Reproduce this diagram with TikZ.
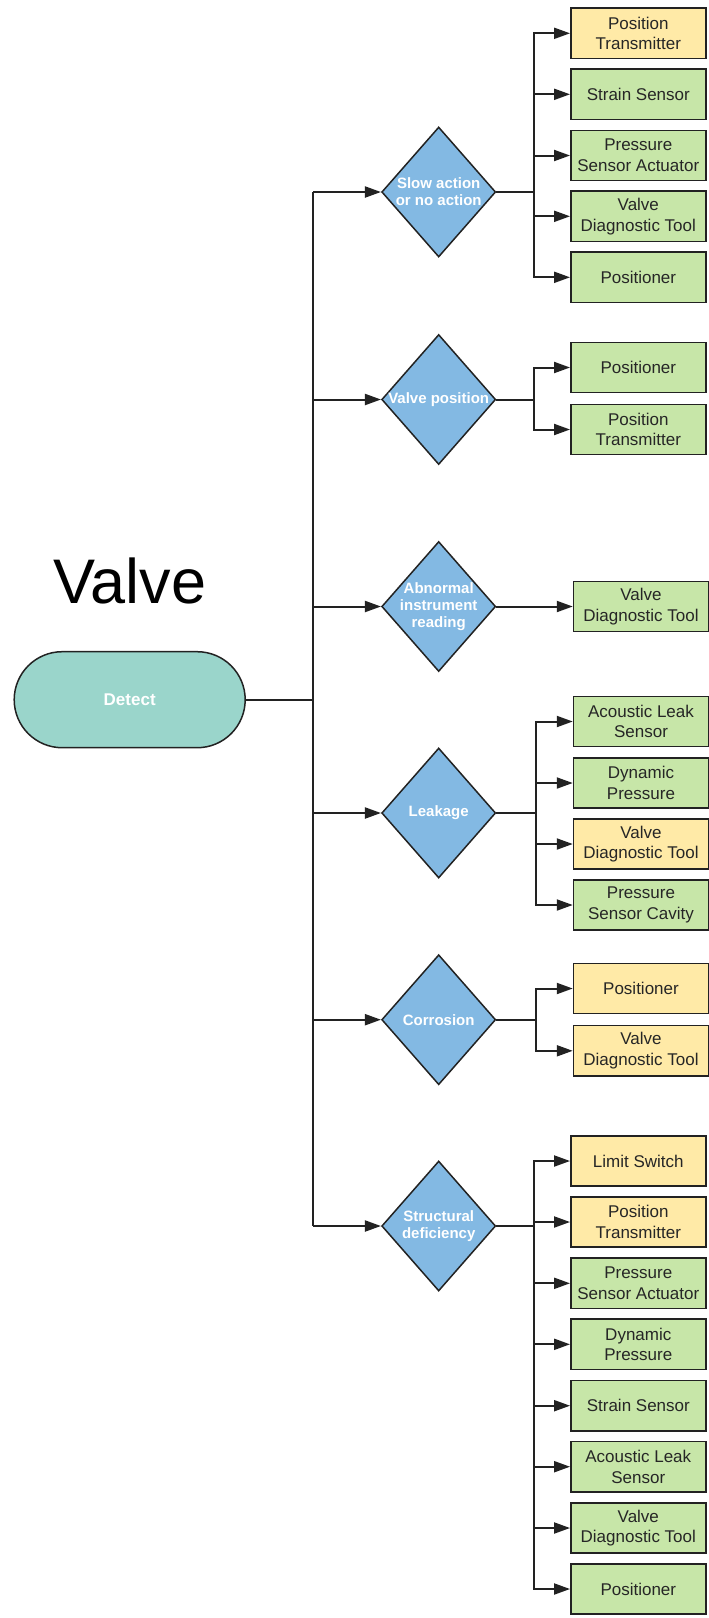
\documentclass[tikz,border=0pt]{standalone}
\usepackage{fontspec}
\setmainfont{Liberation Sans}
\usetikzlibrary{shapes.geometric,arrows.meta}
\definecolor{boxyellow}{HTML}{FFEAA7}
\definecolor{boxgreen}{HTML}{C7E6A8}
\definecolor{diablue}{HTML}{83B9E3}
\definecolor{startteal}{HTML}{9AD5CB}
\definecolor{edge}{HTML}{222222}
\begin{document}
\begin{tikzpicture}[x=1pt,y=-1pt,
  sensor/.style={draw=edge, line width=1.5pt, minimum width=135pt, minimum height=50.3pt,
    inner sep=0pt, align=center, font=\fontsize{17}{20.7}\selectfont, text=black!85},
  yel/.style={sensor, fill=boxyellow},
  grn/.style={sensor, fill=boxgreen},
  dia/.style={diamond, draw=edge, line width=1.5pt, fill=diablue,
    minimum width=114pt, minimum height=130pt, inner sep=0pt},
  dtxt/.style={text=white, font=\bfseries\fontsize{15}{17}\selectfont, align=center, inner sep=0pt},
  start/.style={draw=edge, line width=1.5pt, fill=startteal, rounded corners=48pt,
    minimum width=231pt, minimum height=96pt, inner sep=0pt, text=white,
    font=\bfseries\fontsize{17}{20}\selectfont},
  link/.style={draw=edge, line width=2pt},
  arr/.style={link, -{Triangle[length=16pt,width=11pt]}},
]
\useasboundingbox (0,0) rectangle (709,1618);
\fill[white] (0,0) rectangle (709,1618);

% title and start node
\node[font=\fontsize{63}{63}\selectfont, anchor=base west, inner sep=0pt] (title) at (53,603.5) {Valve};
\node[start] (detect) at (129.7,699.7) {Detect};

% decision diamonds
\node[dia] (d1) at (438.7,192) {};
\node[dtxt] (d1t) at (d1) {Slow action\\or no action};
\node[dia] (d2) at (438.7,399.5) {};
\node[dtxt] (d2t) at (d2) {Valve position};
\node[dia] (d3) at (438.7,606.5) {};
\node[dtxt] (d3t) at (d3) {Abnormal\\instrument\\reading};
\node[dia] (d4) at (438.7,813) {};
\node[dtxt] (d4t) at (d4) {Leakage};
\node[dia] (d5) at (438.7,1019.7) {};
\node[dtxt] (d5t) at (d5) {Corrosion};
\node[dia] (d6) at (438.7,1226) {};
\node[dtxt] (d6t) at (d6) {Structural\\deficiency};

% group 1: slow action
\node[yel] (a1) at (638.3,33.3) {Position\\Transmitter};
\node[grn] (a2) at (638.3,94.3) {Strain Sensor};
\node[grn] (a3) at (638.3,155.5) {Pressure\\Sensor Actuator};
\node[grn] (a4) at (638.3,216.3) {Valve\\Diagnostic Tool};
\node[grn] (a5) at (638.3,277.3) {Positioner};

% group 2: valve position
\node[grn] (b1) at (638.3,367.5) {Positioner};
\node[grn] (b2) at (638.3,429.5) {Position\\Transmitter};

% group 3: abnormal reading
\node[grn] (c1) at (641,606.5) {Valve\\Diagnostic Tool};

% group 4: leakage
\node[grn] (e1) at (641,721.5) {Acoustic Leak\\Sensor};
\node[grn] (e2) at (641,783) {Dynamic\\Pressure};
\node[yel] (e3) at (641,844) {Valve\\Diagnostic Tool};
\node[grn] (e4) at (641,905) {Pressure\\Sensor Cavity};

% group 5: corrosion
\node[yel] (f1) at (641,988.5) {Positioner};
\node[yel] (f2) at (641,1050.8) {Valve\\Diagnostic Tool};

% group 6: structural deficiency
\node[yel] (g1) at (638.3,1161) {Limit Switch};
\node[yel] (g2) at (638.3,1222) {Position\\Transmitter};
\node[grn] (g3) at (638.3,1283.3) {Pressure\\Sensor Actuator};
\node[grn] (g4) at (638.3,1344.3) {Dynamic\\Pressure};
\node[grn] (g5) at (638.3,1405.7) {Strain Sensor};
\node[grn] (g6) at (638.3,1466.7) {Acoustic Leak\\Sensor};
\node[grn] (g7) at (638.3,1528) {Valve\\Diagnostic Tool};
\node[grn] (g8) at (638.3,1589) {Positioner};

% trunk from the start node to every diamond
\coordinate (ttop) at (313.3,192);
\coordinate (tbot) at (313.3,1226);
\draw[link, line width=2.4pt] (detect.east) -- (detect.east -| ttop);
\draw[link] (ttop) -- (tbot);
\foreach \d in {d1,d2,d3,d4,d5,d6}
  \draw[arr] (\d.west -| ttop) -- (\d.west);

% bus coordinates for each group
\coordinate (bus1) at (533.5,192);
\coordinate (bus2) at (533.5,399.5);
\coordinate (bus4) at (535.7,813);
\coordinate (bus5) at (535.7,1019.7);
\coordinate (bus6) at (533.5,1226);

% group 1 connectors
\draw[link] (d1.east) -- (bus1);
\draw[arr] (bus1) |- (a1.west);
\draw[arr] (bus1) |- (a5.west);
\foreach \b in {a2,a3,a4} \draw[arr] (\b.west -| bus1) -- (\b.west);

% group 2 connectors
\draw[link] (d2.east) -- (bus2);
\draw[arr] (bus2) |- (b1.west);
\draw[arr] (bus2) |- (b2.west);

% group 3 connector
\draw[arr] (d3.east) -- (c1.west);

% group 4 connectors
\draw[link] (d4.east) -- (bus4);
\draw[arr] (bus4) |- (e1.west);
\draw[arr] (bus4) |- (e4.west);
\foreach \b in {e2,e3} \draw[arr] (\b.west -| bus4) -- (\b.west);

% group 5 connectors
\draw[link] (d5.east) -- (bus5);
\draw[arr] (bus5) |- (f1.west);
\draw[arr] (bus5) |- (f2.west);

% group 6 connectors
\draw[link] (d6.east) -- (bus6);
\draw[arr] (bus6) |- (g1.west);
\draw[arr] (bus6) |- (g8.west);
\foreach \b in {g2,g3,g4,g5,g6,g7} \draw[arr] (\b.west -| bus6) -- (\b.west);
\end{tikzpicture}
\end{document}
